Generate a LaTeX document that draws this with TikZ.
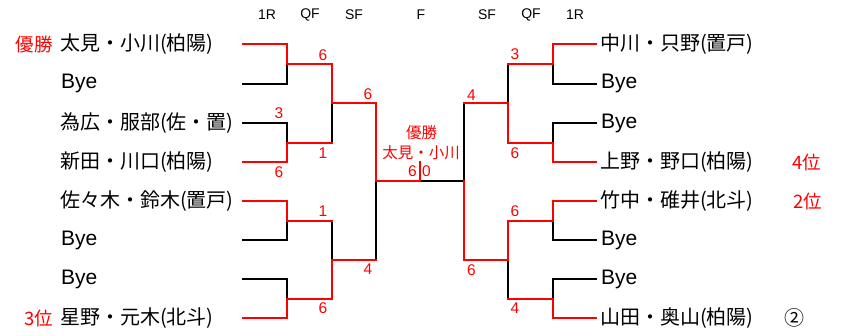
\documentclass[tikz,border=0pt]{standalone}
\usepackage{fontspec}
\setmainfont{Liberation Sans}
\newfontfamily\jpfont{Noto Sans CJK JP}
\begin{document}
\begin{tikzpicture}[x=1pt,y=-1pt,
  ln/.style={line width=2pt,line cap=rect},
  win/.style={ln,draw=red},
  lose/.style={ln,draw=black},
  jname/.style={font=\jpfont\fontsize{20}{22}\selectfont,inner sep=0pt},
  lname/.style={jname,anchor=west},
  bye/.style={font=\fontsize{21}{23}\selectfont,inner sep=0pt,anchor=west},
  hdr/.style={font=\fontsize{14}{16}\selectfont,inner sep=0pt},
  score/.style={font=\fontsize{15.5}{17}\selectfont,text=red,inner sep=0pt},
  rank/.style={font=\jpfont\fontsize{18.5}{20}\selectfont,text=red,inner sep=0pt},
  ctr/.style={font=\jpfont\fontsize{15.5}{17}\selectfont,text=red,inner sep=0pt}]
\useasboundingbox (0,0) rectangle (846,335);
% headers
\node[hdr] (h1) at (267,15) {1R};
\node[hdr] (h2) at (310,15) {QF};
\node[hdr] (h3) at (354,15) {SF};
\node[hdr] (h4) at (421,15) {F};
\node[hdr] (h5) at (487,15) {SF};
\node[hdr] (h6) at (531,15) {QF};
\node[hdr] (h7) at (575,15) {1R};
% left names
\node[lname] (n1) at (60,44) {太見・小川(柏陽)};
\node[bye] (n2) at (61,83.5) {Bye};
\node[lname] (n3) at (60,123) {為広・服部(佐・置)};
\node[lname] (n4) at (60,162) {新田・川口(柏陽)};
\node[lname] (n5) at (60,201) {佐々木・鈴木(置戸)};
\node[bye] (n6) at (61,240) {Bye};
\node[bye] (n7) at (61,279) {Bye};
\node[lname] (n8) at (60,318) {星野・元木(北斗)};
% right names
\node[lname] (r1) at (600,44) {中川・只野(置戸)};
\node[bye] (r2) at (601,83.5) {Bye};
\node[bye] (r3) at (601,123) {Bye};
\node[lname] (r4) at (600,162) {上野・野口(柏陽)};
\node[lname] (r5) at (600,201) {竹中・碓井(北斗)};
\node[bye] (r6) at (601,240) {Bye};
\node[bye] (r7) at (601,279) {Bye};
\node[lname] (r8) at (600,318) {山田・奥山(柏陽)};
% ranks
\node[rank,anchor=east] (k1) at (53,44) {優勝};
\node[rank,anchor=east] (k3) at (53,318) {3位};
\node[rank,anchor=west] (k4) at (792,162) {4位};
\node[rank,anchor=west] (k2) at (793,201) {2位};
\node[jname,anchor=west] (k5) at (784,318) {②};
% coordinates
\foreach \i/\y in {1/44,2/83.5,3/123,4/162,5/201,6/240,7/279,8/318}{
  \coordinate (p\i) at (243,\y);
  \coordinate (q\i) at (287,\y);
  \coordinate (P\i) at (596,\y);
  \coordinate (Q\i) at (553,\y);
}
\coordinate (m1) at (287,63.5);  \coordinate (m2) at (287,142.5);
\coordinate (m3) at (287,220.5); \coordinate (m4) at (287,298.5);
\coordinate (o1) at (332,63.5);  \coordinate (o2) at (332,142.5);
\coordinate (o3) at (332,220.5); \coordinate (o4) at (332,298.5);
\coordinate (s1) at (332,103);   \coordinate (s2) at (332,259.5);
\coordinate (t1) at (376,103);   \coordinate (t2) at (376,259.5);
\coordinate (f1) at (376,181.25); \coordinate (fc) at (420,181.25);
\coordinate (fk) at (420,161.5); \coordinate (f2) at (464,181.25);
\coordinate (T1) at (464,103);   \coordinate (T2) at (464,259.5);
\coordinate (S1) at (508,103);   \coordinate (S2) at (508,259.5);
\coordinate (O1) at (508,63.5);  \coordinate (O2) at (508,142.5);
\coordinate (O3) at (508,220.5); \coordinate (O4) at (508,298.5);
\coordinate (M1) at (553,63.5);  \coordinate (M2) at (553,142.5);
\coordinate (M3) at (553,220.5); \coordinate (M4) at (553,298.5);
% losing lines (black)
\draw[lose] (p2) -- (q2) -- (m1);
\draw[lose] (p3) -- (q3) -- (m2);
\draw[lose] (p6) -- (q6) -- (m3);
\draw[lose] (p7) -- (q7) -- (m4);
\draw[lose] (o2) -- (s1);
\draw[lose] (o3) -- (s2);
\draw[lose] (t2) -- (f1);
\draw[lose] (fc) -- (f2) -- (T1);
\draw[lose] (O1) -- (S1);
\draw[lose] (O4) -- (S2);
\draw[lose] (P2) -- (Q2) -- (M1);
\draw[lose] (P3) -- (Q3) -- (M2);
\draw[lose] (P6) -- (Q6) -- (M3);
\draw[lose] (P7) -- (Q7) -- (M4);
% winning lines (red)
\draw[win] (p1) -- (q1) -- (m1) -- (o1) -- (s1) -- (t1) -- (f1) -- (fc);
\draw[win] (p4) -- (q4) -- (m2) -- (o2);
\draw[win] (p5) -- (q5) -- (m3) -- (o3);
\draw[win] (p8) -- (q8) -- (m4) -- (o4) -- (s2) -- (t2);
\draw[win] (fk) -- (fc);
\draw[win] (P1) -- (Q1) -- (M1) -- (O1);
\draw[win] (P4) -- (Q4) -- (M2) -- (O2) -- (S1) -- (T1);
\draw[win] (P5) -- (Q5) -- (M3) -- (O3) -- (S2) -- (T2) -- (f2);
\draw[win] (P8) -- (Q8) -- (M4) -- (O4);
% scores left
\node[score] (c1) at (323,55) {6};
\node[score] (c2) at (279,113) {3};
\node[score] (c3) at (323,153) {1};
\node[score] (c4) at (279,172) {6};
\node[score] (c5) at (368,94) {6};
\node[score] (c6) at (323,211) {1};
\node[score] (c7) at (368,269.5) {4};
\node[score] (c8) at (323,308) {6};
% scores right
\node[score] (d1) at (515,54) {3};
\node[score] (d2) at (471.5,95) {4};
\node[score] (d3) at (515,153) {6};
\node[score] (d4) at (515,211.5) {6};
\node[score] (d5) at (471.5,270) {6};
\node[score] (d6) at (515,308) {4};
% center
\node[ctr] (w1) at (421.5,133) {優勝};
\node[ctr] (w2) at (421,152.5) {太見・小川};
\node[score] (w3) at (412.5,171.5) {6};
\node[score] (w4) at (426.5,171.5) {0};
\end{tikzpicture}
\end{document}
